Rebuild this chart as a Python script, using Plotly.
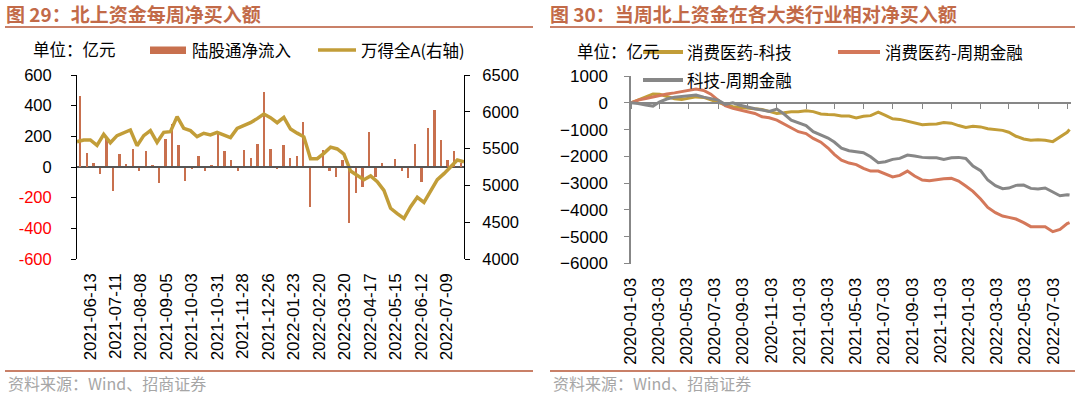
import plotly.graph_objects as go

W, H = 1080, 395

# ---------------- Left chart data (图29) ----------------
flow_values = [465, 89, 28, -48, 195, -156, 82, 17, 117, -24,
               102, 11, -106, 182, 280, 143, -89, -15, 69, -26,
               13, 219, 106, 46, -28, 111, 56, 150, 488, 115,
               -11, 145, 61, 74, 291, -260, 5, 108, -24, -63,
               43, -362, -167, -128, 230, -63, 28, 3, 52, -24,
               -74, 152, -98, 254, 369, 174, 43, 104, 26]
wind_a_values = [5594, 5617, 5617, 5545, 5694, 5580, 5676, 5716, 5753, 5540,
                 5676, 5744, 5585, 5721, 5730, 5934, 5775, 5744, 5662, 5708,
                 5685, 5721, 5685, 5649, 5775, 5816, 5852, 5907, 5970, 5920,
                 5852, 5925, 5766, 5710, 5660, 5363, 5363, 5436, 5520, 5495,
                 5425, 5195, 5141, 5078, 5128, 5050, 4932, 4689, 4616, 4550,
                 4711, 4838, 4770, 4920, 5078, 5160, 5260, 5345, 5322]
left_tick_labels = ["2021-06-13", "2021-07-11", "2021-08-08", "2021-09-05", "2021-10-03",
                    "2021-10-31", "2021-11-28", "2021-12-26", "2022-01-23", "2022-02-20",
                    "2022-03-20", "2022-04-17", "2022-05-15", "2022-06-12", "2022-07-09"]
left_y_ticks = [-600, -400, -200, 0, 200, 400, 600]

# ---------------- Right chart data (图30) ----------------
right_dates = [
    "2020-01-03", "2020-01-18", "2020-02-03", "2020-02-18", "2020-03-03", "2020-03-18",
    "2020-04-03", "2020-04-18", "2020-05-03", "2020-05-18", "2020-06-03", "2020-06-18",
    "2020-07-03", "2020-07-18", "2020-08-03", "2020-08-18", "2020-09-03", "2020-09-18",
    "2020-10-03", "2020-10-18", "2020-11-03", "2020-11-18", "2020-12-03", "2020-12-18",
    "2021-01-03", "2021-01-18", "2021-02-03", "2021-02-18", "2021-03-03", "2021-03-18",
    "2021-04-03", "2021-04-18", "2021-05-03", "2021-05-18", "2021-06-03", "2021-06-18",
    "2021-07-03", "2021-07-18", "2021-08-03", "2021-08-18", "2021-09-03", "2021-09-18",
    "2021-10-03", "2021-10-18", "2021-11-03", "2021-11-18", "2021-12-03", "2021-12-18",
    "2022-01-03", "2022-01-18", "2022-02-03", "2022-02-18", "2022-03-03", "2022-03-18",
    "2022-04-03", "2022-04-18", "2022-05-03", "2022-05-18", "2022-06-03", "2022-06-18",
    "2022-07-03", "2022-07-08"]
consumer_vs_tech = [0, 101, 224, 330, 320, 240, 150, 126, 163, 220, 200, 110,
                    0, -80, -149, -170, -186, -210, -247, -320, -397, -372, -335, -335,
                    -297, -330, -420, -440, -450, -490, -496, -570, -500, -480, -350, -470,
                    -600, -620, -690, -745, -820, -800, -790, -740, -760, -850, -920, -880,
                    -900, -970, -1010, -1030, -1100, -1250, -1350, -1400, -1380, -1400, -1450, -1267,
                    -1100, -994]
consumer_vs_cyclical = [0, 101, 163, 220, 287, 330, 370, 420, 474, 511, 460, 320,
                        101, -110, -210, -280, -335, -397, -521, -558, -645, -800, -956, -1080,
                        -1150, -1330, -1470, -1690, -1925, -2140, -2250, -2310, -2449, -2550, -2550, -2670,
                        -2770, -2710, -2550, -2735, -2884, -2909, -2870, -2840, -2822, -2920, -3108, -3307,
                        -3594, -3905, -4103, -4227, -4277, -4340, -4476, -4625, -4625, -4625, -4812, -4725,
                        -4513, -4476]
tech_vs_cyclical = [0, -24, -86, -123, 39, 140, 210, 230, 250, 287, 210, 163,
                    101, -60, 0, -90, -170, -220, -272, -320, -235, -420, -645, -750,
                    -850, -1081, -1205, -1317, -1467, -1690, -1790, -1827, -1864, -2014, -2237, -2200,
                    -2113, -2076, -1951, -1989, -2038, -2050, -2050, -2113, -2050, -2038, -2076, -2362,
                    -2536, -2884, -3096, -3207, -3183, -3083, -3071, -3195, -3220, -3183, -3332, -3469,
                    -3432, -3444]
right_tick_dates = ["2020-01-03", "2020-03-03", "2020-05-03", "2020-07-03", "2020-09-03", "2020-11-03",
                    "2021-01-03", "2021-03-03", "2021-05-03", "2021-07-03", "2021-09-03", "2021-11-03",
                    "2022-01-03", "2022-03-03", "2022-05-03", "2022-07-03"]
right_y_ticks = [-6000, -5000, -4000, -3000, -2000, -1000, 0, 1000]

# ---------------- Styles ----------------
BAR = "#C8704E"
GOLD = "#C29D38"
ORANGE = "#D4785A"
GRAY = "#878787"
TITLE = "#C26A48"
RULE = "#C98068"
FONT = "Liberation Sans, Arial, Noto Sans CJK SC, sans-serif"
CJK = "Noto Sans CJK SC, Liberation Sans, sans-serif"


def fx(p):
    return p / W


def fy(p):
    return 1 - p / H


week_index = list(range(len(flow_values)))

fig = go.Figure()
# left chart
fig.add_trace(go.Bar(x=week_index, y=flow_values, xaxis="x", yaxis="y",
                     marker=dict(color=BAR, line=dict(width=0)), width=0.36,
                     name="陆股通净流入", showlegend=False))
fig.add_trace(go.Scatter(x=week_index, y=wind_a_values, xaxis="x2", yaxis="y2", mode="lines",
                         line=dict(color=GOLD, width=3.5), name="万得全A(右轴)", showlegend=False))
fig.add_trace(go.Scatter(x=[], y=[], xaxis="x3", yaxis="y", showlegend=False))
# right chart
for vals, col, nm in [(consumer_vs_tech, GOLD, "消费医药-科技"),
                      (consumer_vs_cyclical, ORANGE, "消费医药-周期金融"),
                      (tech_vs_cyclical, GRAY, "科技-周期金融")]:
    fig.add_trace(go.Scatter(x=right_dates, y=vals, xaxis="x4", yaxis="y3", mode="lines",
                             line=dict(color=col, width=3), name=nm, showlegend=False))
fig.add_trace(go.Scatter(x=[], y=[], xaxis="x5", yaxis="y3", showlegend=False))

# ---- axes geometry (pixels) ----
L_X0, L_X1, L_Y0, L_Y1 = 77, 464, 75, 259
R_X0, R_X1, R_Y0, R_Y1 = 631, 1071, 76, 263.5

left_ticktext = [(f'<span style="color:#FF0000">{v}</span>' if v < 0 else str(v)) for v in left_y_ticks]

r_dom = [fy(R_Y1), fy(R_Y0)]
zero_pos = r_dom[0] + (r_dom[1] - r_dom[0]) * (0 - right_y_ticks[0]) / (right_y_ticks[-1] - right_y_ticks[0])

n = len(flow_values)
fig.update_layout(
    width=W, height=H, autosize=False,
    margin=dict(l=0, r=0, t=0, b=0),
    paper_bgcolor="white", plot_bgcolor="rgba(0,0,0,0)",
    template="none",
    font=dict(family=FONT, size=17, color="black"),
    bargap=0,
    xaxis=dict(domain=[fx(L_X0), fx(L_X1)], range=[-0.5, n - 0.5], visible=False, anchor="y"),
    xaxis2=dict(overlaying="x", range=[0, n - 1], visible=False, anchor="y2"),
    xaxis3=dict(domain=[fx(90), fx(446.5)], range=[0, len(left_tick_labels) - 1], anchor="y",
                tickmode="array", tickvals=list(range(len(left_tick_labels))), ticktext=left_tick_labels,
                tickangle=-90, showline=False, ticks="", showgrid=False, zeroline=False,
                ticklabelstandoff=10, tickfont=dict(size=17, family=FONT)),
    yaxis=dict(domain=[fy(L_Y1), fy(L_Y0)], range=[-600, 600], anchor="x",
               tickmode="array", tickvals=left_y_ticks, ticktext=left_ticktext,
               showline=True, linecolor="black", linewidth=1, ticks="outside", ticklen=5,
               tickcolor="black", showgrid=False, zeroline=True, zerolinecolor="#555555",
               zerolinewidth=1.6, ticklabelstandoff=16, tickfont=dict(size=16.5)),
    yaxis2=dict(overlaying="y", side="right", anchor="x", range=[4000, 6500], dtick=500,
                tick0=4000, showline=True, linecolor="black", linewidth=1, ticks="outside",
                ticklen=5, tickcolor="black", showgrid=False, zeroline=False,
                ticklabelstandoff=9, tickfont=dict(size=16.5)),
    xaxis4=dict(domain=[fx(R_X0), fx(R_X1)], type="date", range=["2020-01-03", "2022-07-11"],
                anchor="free", position=zero_pos, showline=True, linecolor=GRAY, linewidth=1.5,
                ticks="outside", ticklen=5, tickcolor=GRAY, tickwidth=1.2,
                tickmode="array", tickvals=right_tick_dates, showticklabels=False,
                showgrid=False, zeroline=False),
    yaxis3=dict(domain=r_dom, range=[right_y_ticks[0], right_y_ticks[-1]], anchor="x4",
                tickmode="array", tickvals=right_y_ticks,
                showline=True, linecolor=GRAY, linewidth=1.5, ticks="outside", ticklen=5,
                tickcolor=GRAY, showgrid=False, zeroline=False, ticklabelstandoff=13,
                tickfont=dict(size=17)),
    xaxis5=dict(domain=[fx(630), fx(1053)], range=[0, len(right_tick_dates) - 1], anchor="y3",
                tickmode="array", tickvals=list(range(len(right_tick_dates))),
                ticktext=right_tick_dates, tickangle=-90, showline=False, ticks="",
                showgrid=False, zeroline=False, ticklabelstandoff=10,
                tickfont=dict(size=17, family=FONT)),
)

annotations = []
shapes = []


def text(xp, yp, s, size=17, color="black", bold=False, family=CJK):
    annotations.append(dict(x=fx(xp), y=fy(yp), xref="paper", yref="paper", xanchor="left",
                            yanchor="middle", showarrow=False, text=(f"<b>{s}</b>" if bold else s),
                            font=dict(size=size, color=color, family=family)))


def hline(x0, x1, yp, color, width):
    shapes.append(dict(type="line", xref="paper", yref="paper", x0=fx(x0), x1=fx(x1),
                       y0=fy(yp), y1=fy(yp), line=dict(color=color, width=width)))


# titles and rules
text(4, 14, "图 29：北上资金每周净买入额", size=19, color=TITLE, bold=True)
text(548, 14, "图 30：当周北上资金在各大类行业相对净买入额", size=19, color=TITLE, bold=True)
hline(5, 533, 27, RULE, 2)
hline(550, 1075, 27, RULE, 2)
hline(5, 533, 371, RULE, 2)
hline(550, 1075, 371, RULE, 2)
text(6, 383, "资料来源：Wind、招商证券", size=16, color="#A6A6A6")
text(551, 383, "资料来源：Wind、招商证券", size=16, color="#A6A6A6")

# left legend
text(31, 49, "单位：亿元", size=16.5)
shapes.append(dict(type="rect", xref="paper", yref="paper", x0=fx(150), x1=fx(186),
                   y0=fy(54), y1=fy(46.5), line=dict(width=0), fillcolor=BAR))
text(190, 50, "陆股通净流入", size=16.5)
hline(318, 356, 50, GOLD, 3.5)
text(359, 50, "万得全A(右轴)", size=16.5)

# right legend
text(575, 51, "单位：亿元", size=16.5)
hline(643, 683, 52, GOLD, 4)
text(685, 52, "消费医药-科技", size=16.5)
hline(838, 880, 52, ORANGE, 4)
text(883, 52, "消费医药-周期金融", size=16.5)
hline(643, 683, 80, GRAY, 4)
text(685, 80, "科技-周期金融", size=16.5)

fig.update_layout(annotations=annotations, shapes=shapes)

fig.write_html("out.html", config={"displayModeBar": False},
               post_script="document.body.style.margin='0';document.body.style.overflow='hidden';")
